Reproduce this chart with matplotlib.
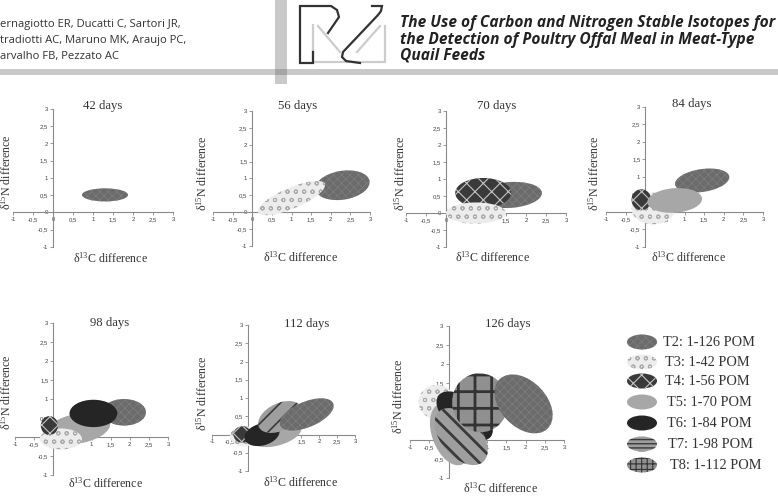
import matplotlib
matplotlib.use("Agg")
import matplotlib.pyplot as plt
from matplotlib.patches import Ellipse

plt.rcParams.update({
    "font.family": "Liberation Serif",
    "mathtext.fontset": "custom",
    "mathtext.rm": "Liberation Serif",
    "mathtext.it": "Liberation Serif:italic",
})

W, H = 778, 498

# ---- data: ellipse per treatment (centre x, centre y, width, height, angle) ----
days = [42, 56, 70, 84, 98, 112, 126]

d42_trt = ["T2"]
d42_cx = [1.3]
d42_cy = [0.51]
d42_w = [1.15]
d42_h = [0.38]
d42_ang = [0]

d56_trt = ["T2", "T3"]
d56_cx = [2.3, 1.0]
d56_cy = [0.8, 0.42]
d56_w = [1.4, 1.9]
d56_h = [0.85, 0.6]
d56_ang = [12, 27]

d70_trt = ["T2", "T4", "T3"]
d70_cx = [1.6, 0.93, 0.75]
d70_cy = [0.53, 0.59, 0.0]
d70_w = [1.6, 1.4, 1.5]
d70_h = [0.76, 0.88, 0.62]
d70_ang = [5, 0, 0]

d84_trt = ["T2", "T3", "T4", "T5"]
d84_cx = [1.45, 0.2, -0.1, 0.75]
d84_cy = [0.9, 0.1, 0.35, 0.33]
d84_w = [1.4, 1.1, 0.5, 1.4]
d84_h = [0.65, 0.9, 0.6, 0.7]
d84_ang = [10, 0, 0, 5]

d98_trt = ["T2", "T5", "T3", "T4", "T6"]
d98_cx = [1.85, 0.65, 0.2, -0.1, 1.05]
d98_cy = [0.65, 0.22, -0.05, 0.3, 0.62]
d98_w = [1.15, 1.7, 1.1, 0.45, 1.25]
d98_h = [0.7, 0.78, 0.55, 0.5, 0.72]
d98_ang = [0, 10, 0, 0, 0]

d112_trt = ["T3", "T4", "T5", "T6", "T7", "T2"]
d112_cx = [-0.1, -0.15, 0.8, 0.4, 0.9, 1.65]
d112_cy = [-0.05, 0.0, 0.02, 0.0, 0.48, 0.55]
d112_w = [0.8, 0.5, 1.45, 1.0, 1.3, 1.6]
d112_h = [0.55, 0.45, 0.65, 0.6, 0.75, 0.7]
d112_ang = [0, 0, 15, 15, 25, 22]

d126_trt = ["T3", "T5", "T6", "T7", "T8", "T2"]
d126_cx = [-0.3, 0.05, 0.42, 0.33, 0.82, 1.95]
d126_cy = [1.0, 0.15, 0.63, 0.09, 0.98, 0.95]
d126_w = [0.95, 1.7, 1.74, 1.75, 1.45, 1.8]
d126_h = [0.9, 0.95, 0.9, 1.05, 1.55, 1.2]
d126_ang = [0, -70, -39, -50, 10, -47]

legend_trt = ["T2", "T3", "T4", "T5", "T6", "T7", "T8"]
legend_lbl = ["T2: 1-126 POM", "T3: 1-42 POM", "T4: 1-56 POM", "T5: 1-70 POM",
              "T6: 1-84 POM", "T7: 1-98 POM", "T8: 1-112 POM"]

tick_vals = [-1, -0.5, 0, 0.5, 1, 1.5, 2, 2.5, 3]
tick_lbls = ["-1", "-0,5", "0", "0,5", "1", "1,5", "2", "2,5", "3"]

authors = ["ernagiotto ER, Ducatti C, Sartori JR,",
           "tradiotti AC, Maruno MK, Araujo PC,",
           "arvalho FB, Pezzato AC"]
paper_title = ["The Use of Carbon and Nitrogen Stable Isotopes for",
               "the Detection of Poultry Offal Meal in Meat-Type",
               "Quail Feeds"]

# ---- look of each treatment ----
STYLE = {
    "T2": dict(fc="#6b6b6b", hatch="xxxx", hc="#7e7e7e", hlw=0.5),
    "T3": dict(fc="#ececec", hatch="oo", hc="#aaaaaa", hlw=0.7),
    "T4": dict(fc="#3a3a3a", hatch="xx", hc="#c4c4c4", hlw=0.8),
    "T5": dict(fc="#a7a7a7", hatch=None, hc="#a7a7a7", hlw=0.5),
    "T6": dict(fc="#252525", hatch=None, hc="#252525", hlw=0.5),
    "T7": dict(fc="#9e9e9e", hatch="//", hc="#3a3a3a", hlw=1.2),
    "T8": dict(fc="#909090", hatch="+", hc="#333333", hlw=1.8),
}
T7_HATCH = {112: "//", 126: "\\\\", "legend": "----"}
T7_LW = {112: 1.2, 126: 2.0, "legend": 1.0}
T8_HATCH = {126: "+", "legend": "+++"}
T8_LW = {126: 2.0, "legend": 0.8}

# pixel box of each panel: x=-1, x=3, y=3, y=-1
BOX = {42: (13, 173, 109, 247), 56: (213, 370, 111, 246),
       70: (406, 566, 111, 247), 84: (606, 763, 107, 247),
       98: (15, 168, 323, 475), 112: (212, 355, 325, 471),
       126: (410, 564, 326, 478)}
TITLE_XY = {42: (103, 106), 56: (298, 106), 70: (497, 106), 84: (692, 104),
            98: (110, 323), 112: (307, 324), 126: (508, 324)}
YLAB_XY = {42: (6, 172), 56: (202, 173), 70: (400, 173), 84: (594, 173),
           98: (6, 392), 112: (202, 393), 126: (398, 396)}
XLAB_XY = {42: (110, 258), 56: (300, 257), 70: (492, 257), 84: (688, 257),
           98: (105, 483), 112: (300, 482), 126: (500, 488)}

panels = {
    42: (d42_trt, d42_cx, d42_cy, d42_w, d42_h, d42_ang),
    56: (d56_trt, d56_cx, d56_cy, d56_w, d56_h, d56_ang),
    70: (d70_trt, d70_cx, d70_cy, d70_w, d70_h, d70_ang),
    84: (d84_trt, d84_cx, d84_cy, d84_w, d84_h, d84_ang),
    98: (d98_trt, d98_cx, d98_cy, d98_w, d98_h, d98_ang),
    112: (d112_trt, d112_cx, d112_cy, d112_w, d112_h, d112_ang),
    126: (d126_trt, d126_cx, d126_cy, d126_w, d126_h, d126_ang),
}


def fx(x):
    return x / W


def fy(y):
    return 1 - y / H


def make_ellipse(trt, xy, w, h, ang, key):
    st = STYLE[trt]
    hatch = st["hatch"]
    hlw = st["hlw"]
    if trt == "T7":
        hatch = T7_HATCH.get(key, "//")
        hlw = T7_LW.get(key, 1.2)
    if trt == "T8":
        hatch = T8_HATCH.get(key, "+")
        hlw = T8_LW.get(key, 1.0)
    with plt.rc_context({"hatch.linewidth": hlw}):
        e = Ellipse(xy, w, h, angle=ang, facecolor=st["fc"],
                    edgecolor=st["hc"], linewidth=0, hatch=hatch, zorder=3,
                    clip_on=False)
    if hasattr(e, "set_hatch_linewidth"):
        e.set_hatch_linewidth(hlw)
    return e


fig = plt.figure(figsize=(W / 100, H / 100), dpi=100)

# ---- header ----
fig.add_artist(plt.Rectangle((0, fy(75)), 1, 6 / H, color="#c9c9c9", lw=0))
fig.add_artist(plt.Rectangle((fx(275), fy(84)), 12 / W, 84 / H, color="#c9c9c9", lw=0))
fig.add_artist(plt.Rectangle((fx(275), fy(75)), 12 / W, 6 / H, color="#a5a5a5", lw=0))

for i, line in enumerate(authors):
    fig.text(fx(0), fy(25 + 16 * i), line, fontsize=8.1, family="Open Sans",
             color="#333333", va="center", ha="left")
for i, line in enumerate(paper_title):
    fig.text(fx(400), fy(23 + 16.5 * i), line, fontsize=11.2, family="Open Sans",
             weight="bold", style="italic", color="#222222",
             va="center", ha="left")

logo = fig.add_axes([fx(260), fy(90), 140 / W, 90 / H])
logo.set_xlim(260, 400)
logo.set_ylim(90, 0)
logo.axis("off")
for seg in ([(318, 26), (340, 52)], [(380, 26), (357, 52)],
            [(313, 25), (313, 62), (385, 62), (385, 26)]):
    xs, ys = zip(*seg)
    logo.plot(xs, ys, color="#cccccc", lw=1.6, solid_joinstyle="miter")
for seg in ([(313, 52), (313, 63), (300, 63), (300, 6), (331, 6), (337, 10),
             (339, 17), (328, 33)],
            [(372, 6), (382, 6), (381, 11), (378, 15), (343, 52), (342, 57),
             (346, 61), (360, 63)]):
    xs, ys = zip(*seg)
    logo.plot(xs, ys, color="#333333", lw=1.6, solid_joinstyle="miter")

# ---- panels ----
for d in days:
    x0, x1, y0, y1 = BOX[d]
    ax = fig.add_axes([fx(x0), fy(y1), (x1 - x0) / W, (y1 - y0) / H])
    ax.set_xlim(-1, 3)
    ax.set_ylim(-1, 3)
    ax.patch.set_alpha(0)
    for s in ("top", "right"):
        ax.spines[s].set_visible(False)
    for s in ("left", "bottom"):
        ax.spines[s].set_position(("data", 0))
        ax.spines[s].set_color("#8a8a8a")
        ax.spines[s].set_linewidth(0.8)
    ax.set_xticks(tick_vals)
    ax.set_xticklabels(tick_lbls)
    ax.set_yticks(tick_vals)
    ax.set_yticklabels(tick_lbls)
    ax.tick_params(length=2, width=0.6, color="#8a8a8a", labelsize=4.3,
                   labelcolor="#444444", pad=1.5)
    for lab in ax.get_xticklabels() + ax.get_yticklabels():
        lab.set_family("Liberation Sans")

    trt, cx, cy, w, h, ang = panels[d]
    for i in range(len(trt)):
        ax.add_patch(make_ellipse(trt[i], (cx[i], cy[i]), w[i], h[i], ang[i], d))

    tx, ty = TITLE_XY[d]
    fig.text(fx(tx), fy(ty), f"{d} days", fontsize=9.2, ha="center",
             va="center", color="#333333")
    lx, ly = YLAB_XY[d]
    fig.text(fx(lx), fy(ly), r"δ$^{15}$N difference", fontsize=8.6,
             rotation=90, ha="center", va="center", color="#333333")
    lx, ly = XLAB_XY[d]
    fig.text(fx(lx), fy(ly), r"δ$^{13}$C difference", fontsize=8.6,
             ha="center", va="center", color="#333333")

# ---- legend ----
leg = fig.add_axes([fx(590), fy(498), 188 / W, 178 / H])
leg.set_xlim(590, 778)
leg.set_ylim(498, 320)
leg.axis("off")
leg_y = [342, 362, 381, 402, 423, 444, 465]
leg_tx = [663, 665, 665, 667, 667, 668, 670]
for i, t in enumerate(legend_trt):
    leg.add_patch(make_ellipse(t, (642, leg_y[i]), 30, 15, 0, "legend"))
    leg.text(leg_tx[i], leg_y[i], legend_lbl[i], fontsize=10.4, va="center",
             ha="left", color="#333333")

fig.savefig("out.png", dpi=100)
